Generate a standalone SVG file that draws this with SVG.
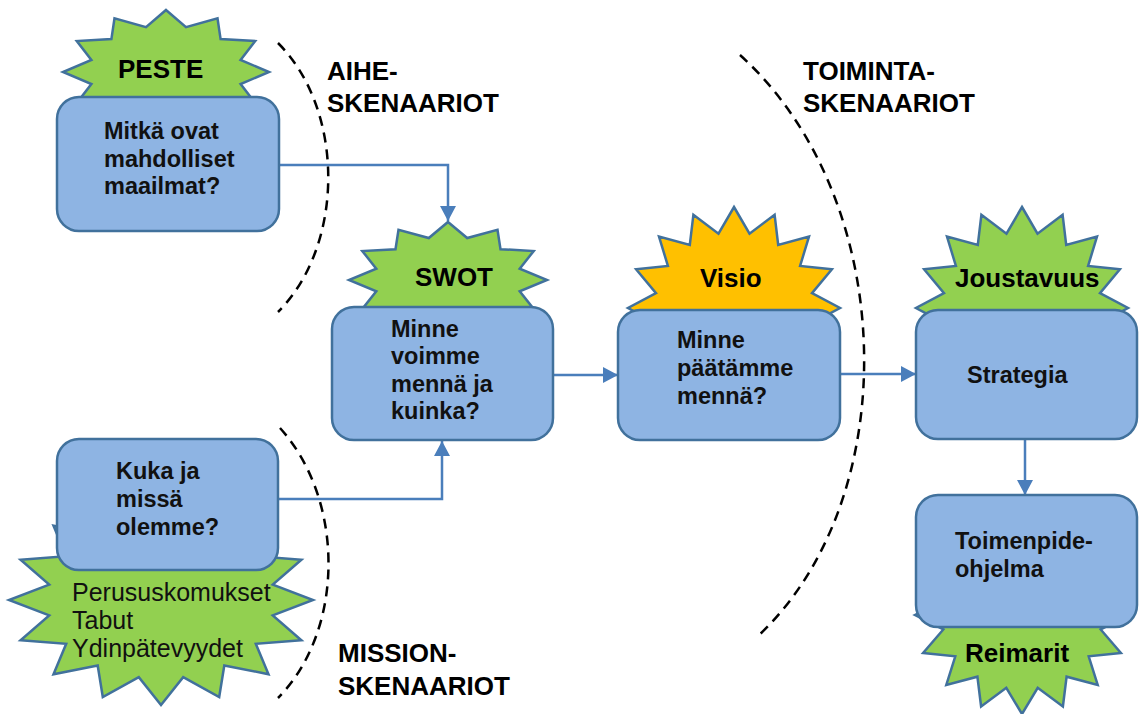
<svg xmlns="http://www.w3.org/2000/svg" width="1139" height="714" viewBox="0 0 1139 714">
  <defs>
    <style>
      .box { fill: #8EB4E3; stroke: #41719C; stroke-width: 2.5; }
      .star { stroke: #41719C; stroke-width: 2.5; stroke-linejoin: miter; }
      .green { fill: #92D050; }
      .gold { fill: #FFC000; }
      .lbl { font-family: "Liberation Sans", Arial, sans-serif; font-weight: bold; font-size: 26px; fill: #000; }
      .txt { font-family: "Liberation Sans", Arial, sans-serif; font-weight: bold; font-size: 23.5px; fill: #111; }
      .plain { font-family: "Liberation Sans", Arial, sans-serif; font-weight: normal; font-size: 25px; fill: #111; }
      .arc { fill: none; stroke: #000; stroke-width: 2.5; stroke-dasharray: 10 7; }
      .link { fill: none; stroke: #4A7EBB; stroke-width: 2.5; }
    </style>
    <marker id="arrow" markerUnits="userSpaceOnUse" markerWidth="16" markerHeight="16" refX="15" refY="8" orient="auto">
      <path d="M0,0 L15,8 L0,16 z" fill="#4A7EBB"/>
    </marker>
  </defs>

  <rect width="1139" height="714" fill="#fff"/>

  <!-- scenario boundaries -->
  <g id="boundaries">
    <path class="arc" d="M278,43 C345,110 345,245 278,312"/>
    <path class="arc" d="M280,428 C345,500 345,630 278,698"/>
    <path class="arc" d="M740,55 C900,200 905,500 757,637"/>
    <text class="lbl" x="327" y="80">AIHE-</text>
    <text class="lbl" x="327" y="112">SKENAARIOT</text>
    <text class="lbl" x="803" y="80">TOIMINTA-</text>
    <text class="lbl" x="803" y="112">SKENAARIOT</text>
    <text class="lbl" x="338" y="662">MISSION-</text>
    <text class="lbl" x="338" y="695">SKENAARIOT</text>
  </g>

  <!-- connectors -->
  <g id="connectors">
    <path class="link" d="M279,165 H448 V221" marker-end="url(#arrow)"/>
    <path class="link" d="M279,499 H442 V441" marker-end="url(#arrow)"/>
    <path class="link" d="M553,375 H618" marker-end="url(#arrow)"/>
    <path class="link" d="M840,374 H916" marker-end="url(#arrow)"/>
    <path class="link" d="M1025,439 V495" marker-end="url(#arrow)"/>
  </g>

  <g id="peste">
    <polygon class="star green" points="166,10 186,27.1 217.5,18.3 220.6,39.1 255.2,41 240.6,60 269,72 240.6,84 255.2,103 220.6,104.9 217.5,125.7 186,116.9 166,134 146,116.9 114.5,125.7 111.4,104.9 76.8,103 91.4,84 63,72 91.4,60 76.8,41 111.4,39.1 114.5,18.3 146,27.1"/>
    <rect class="box" x="57" y="97" width="222" height="134" rx="22"/>
    <text class="lbl" x="118" y="78">PESTE</text>
    <text class="txt" x="104" y="139">Mitkä ovat</text>
    <text class="txt" x="104" y="167">mahdolliset</text>
    <text class="txt" x="104" y="194">maailmat?</text>
  </g>

  <g id="swot">
    <polygon class="star green" points="448,222 467.2,238 497.5,229.8 500.5,249.2 533.7,251 519.7,268.7 547,280 519.7,291.3 533.7,309 500.5,310.8 497.5,330.2 467.2,322 448,338 428.8,322 398.5,330.2 395.5,310.8 362.3,309 376.3,291.3 349,280 376.3,268.7 362.3,251 395.5,249.2 398.5,229.8 428.8,238"/>
    <rect class="box" x="332" y="307" width="221" height="133" rx="22"/>
    <text class="lbl" x="415" y="286">SWOT</text>
    <text class="txt" x="391" y="337">Minne</text>
    <text class="txt" x="391" y="364">voimme</text>
    <text class="txt" x="391" y="392">mennä ja</text>
    <text class="txt" x="391" y="419">kuinka?</text>
  </g>

  <g id="visio">
    <polygon class="star gold" points="734,207 749.5,233.7 774.6,214.7 778.2,245 809,236.6 800.1,265.9 831.9,269.3 812,293.2 840,308 812,322.8 831.9,346.7 800.1,350.1 809,379.4 778.2,371 774.6,401.3 749.5,382.3 734,409 718.5,382.3 693.4,401.3 689.8,371 659,379.4 667.9,350.1 636.1,346.7 656,322.8 628,308 656,293.2 636.1,269.3 667.9,265.9 659,236.6 689.8,245 693.4,214.7 718.5,233.7"/>
    <rect class="box" x="618" y="310" width="222" height="130" rx="22"/>
    <text class="lbl" x="700" y="287">Visio</text>
    <text class="txt" x="677" y="348">Minne</text>
    <text class="txt" x="677" y="376">päätämme</text>
    <text class="txt" x="677" y="404">mennä?</text>
  </g>

  <g id="strategia">
    <polygon class="star green" points="1022,207 1037.5,233.7 1062.6,214.7 1066.2,245 1097,236.6 1088.1,265.9 1119.9,269.3 1100,293.2 1128,308 1100,322.8 1119.9,346.7 1088.1,350.1 1097,379.4 1066.2,371 1062.6,401.3 1037.5,382.3 1022,409 1006.5,382.3 981.4,401.3 977.8,371 947,379.4 955.9,350.1 924.1,346.7 944,322.8 916,308 944,293.2 924.1,269.3 955.9,265.9 947,236.6 977.8,245 981.4,214.7 1006.5,233.7"/>
    <rect class="box" x="916" y="310" width="221" height="129" rx="22"/>
    <text class="lbl" x="955" y="287">Joustavuus</text>
    <text class="txt" x="967" y="383">Strategia</text>
  </g>

  <g id="toimenpideohjelma">
    <polygon class="star green" points="1022,516 1037.7,542.2 1062.9,523.5 1066.6,553.3 1097.7,545 1088.7,573.7 1120.9,577.1 1100.7,600.5 1129,615 1100.7,629.5 1120.9,652.9 1088.7,656.3 1097.7,685 1066.6,676.7 1062.9,706.5 1037.7,687.8 1022,714 1006.3,687.8 981.1,706.5 977.4,676.7 946.3,685 955.3,656.3 923.1,652.9 943.3,629.5 915,615 943.3,600.5 923.1,577.1 955.3,573.7 946.3,545 977.4,553.3 981.1,523.5 1006.3,542.2"/>
    <rect class="box" x="916" y="495" width="221" height="132" rx="22"/>
    <text class="txt" x="955" y="549">Toimenpide-</text>
    <text class="txt" x="955" y="577">ohjelma</text>
    <text class="lbl" x="965" y="662">Reimarit</text>
  </g>

  <g id="missio">
    <polygon class="star green" points="161,495 183.2,522.8 219.2,503 224.3,534.5 268.5,525.8 255.8,556.2 301.4,559.8 272.8,584.6 313,600 272.8,615.4 301.4,640.2 255.8,643.8 268.5,674.2 224.3,665.5 219.2,697 183.2,677.2 161,705 138.8,677.2 102.8,697 97.7,665.5 53.5,674.2 66.2,643.8 20.6,640.2 49.2,615.4 9,600 49.2,584.6 20.6,559.8 66.2,556.2 53.5,525.8 97.7,534.5 102.8,503 138.8,522.8"/>
    <rect class="box" x="57" y="439" width="221" height="131" rx="22"/>
    <text class="txt" x="116" y="479">Kuka ja</text>
    <text class="txt" x="116" y="507">missä</text>
    <text class="txt" x="116" y="535">olemme?</text>
    <text class="plain" x="72" y="601">Perususkomukset</text>
    <text class="plain" x="72" y="629">Tabut</text>
    <text class="plain" x="72" y="657">Ydinpätevyydet</text>
  </g>
</svg>
